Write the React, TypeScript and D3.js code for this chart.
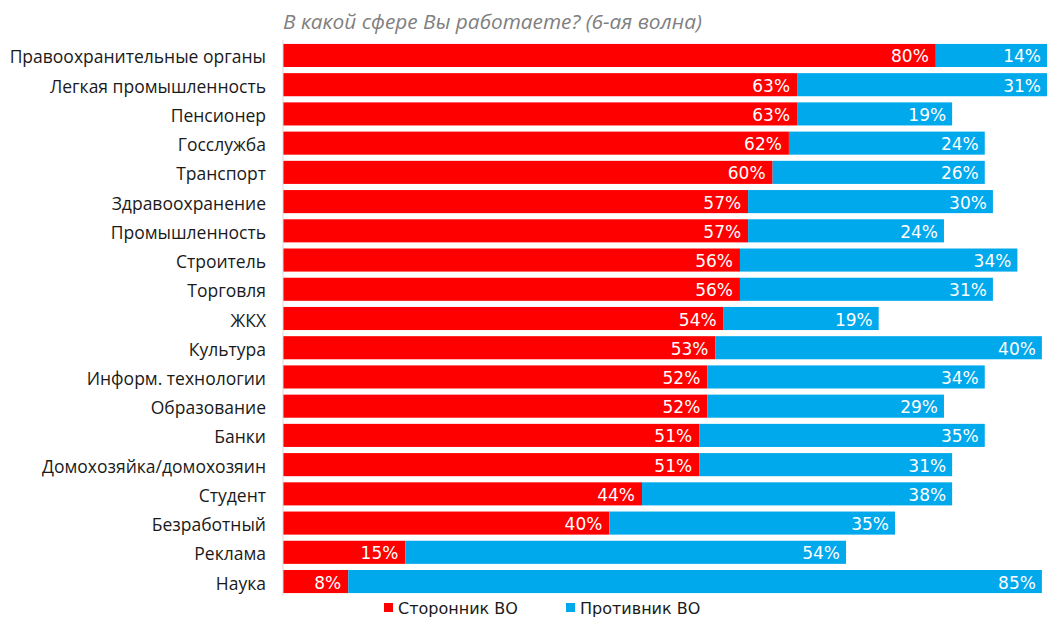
import * as d3 from 'd3';
import React, { useRef, useEffect } from 'react';

const categories = [
  'Правоохранительные органы', 'Легкая промышленность', 'Пенсионер', 'Госслужба',
  'Транспорт', 'Здравоохранение', 'Промышленность', 'Строитель', 'Торговля', 'ЖКХ',
  'Культура', 'Информ. технологии', 'Образование', 'Банки', 'Домохозяйка/домохозяин',
  'Студент', 'Безработный', 'Реклама', 'Наука',
];
const supporters = [80, 63, 63, 62, 60, 57, 57, 56, 56, 54, 53, 52, 52, 51, 51, 44, 40, 15, 8];
const opponents = [14, 31, 19, 24, 26, 30, 24, 34, 31, 19, 40, 34, 29, 35, 31, 38, 35, 54, 85];
const seriesNames = ['Сторонник ВО', 'Противник ВО'];
const colors = ['#ff0000', '#00a8ec'];

const W = 1047;
const H = 617;

export default function App() {
  const svgRef = useRef<SVGSVGElement>(null);

  useEffect(() => {
    if (!svgRef.current) return;
    const svg = d3.select(svgRef.current);
    svg.selectAll('*').remove();

    const x = d3.scaleLinear().domain([0, 100]).range([283, 283 + 816]);
    const y = d3.scaleBand().domain(categories).range([41, 596]).paddingInner(0.21).paddingOuter(0.1);

    // title
    svg.append('text')
      .attr('x', 283).attr('y', 29)
      .attr('font-family', 'Open Sans, sans-serif').attr('font-style', 'italic')
      .attr('font-size', 20.8).attr('fill', '#808080')
      .text('В какой сфере Вы работаете? (6-ая волна)');

    const rows = categories.map((c, i) => ({ c, a: supporters[i], b: opponents[i] }));

    const g = svg.append('g');
    g.selectAll('rect.a').data(rows).enter().append('rect')
      .attr('x', x(0)).attr('y', d => y(d.c)!)
      .attr('width', d => x(d.a) - x(0)).attr('height', y.bandwidth())
      .attr('fill', colors[0]);
    g.selectAll('rect.b').data(rows).enter().append('rect')
      .attr('x', d => x(d.a)).attr('y', d => y(d.c)!)
      .attr('width', d => x(d.a + d.b) - x(d.a)).attr('height', y.bandwidth())
      .attr('fill', colors[1]);

    const lbl = (sel: any) => sel
      .attr('font-family', 'DejaVu Sans, sans-serif').attr('font-size', 17)
      .attr('fill', '#fff').attr('text-anchor', 'end').attr('dominant-baseline', 'central');
    g.selectAll('text.a').data(rows).enter().append('text')
      .attr('x', d => x(d.a) - 7).attr('y', d => y(d.c)! + y.bandwidth() / 2 + 1)
      .call(lbl).text(d => d.a + '%');
    g.selectAll('text.b').data(rows).enter().append('text')
      .attr('x', d => Math.min(x(d.a + d.b), W) - 6).attr('y', d => y(d.c)! + y.bandwidth() / 2 + 1)
      .call(lbl).text(d => d.b + '%');

    // axis line
    svg.append('line').attr('x1', 283).attr('x2', 283).attr('y1', 40).attr('y2', 596)
      .attr('stroke', '#d9d9d9').attr('stroke-width', 1);

    // category labels
    svg.append('g').selectAll('text').data(categories).enter().append('text')
      .attr('x', 266).attr('y', d => y(d)! + y.bandwidth() / 2 + 1)
      .attr('text-anchor', 'end').attr('dominant-baseline', 'central')
      .attr('font-family', 'Open Sans, sans-serif').attr('font-size', 17.5).attr('fill', '#1a1a1a')
      .text(d => d);

    // legend
    const legX = [384, 566];
    const leg = svg.append('g');
    seriesNames.forEach((n, i) => {
      leg.append('rect').attr('x', legX[i]).attr('y', 603).attr('width', 9).attr('height', 9).attr('fill', colors[i]);
      leg.append('text').attr('x', legX[i] + 14).attr('y', 608).attr('dominant-baseline', 'central')
        .attr('font-family', 'DejaVu Sans, sans-serif').attr('font-size', 16).attr('fill', '#1a1a1a')
        .text(n);
    });
  }, []);

  return (
    <div style={{ position: 'absolute', left: 0, top: 0, width: W, height: H, overflow: 'hidden', background: '#fff' }}>
      <svg ref={svgRef} width={W} height={H} />
    </div>
  );
}
